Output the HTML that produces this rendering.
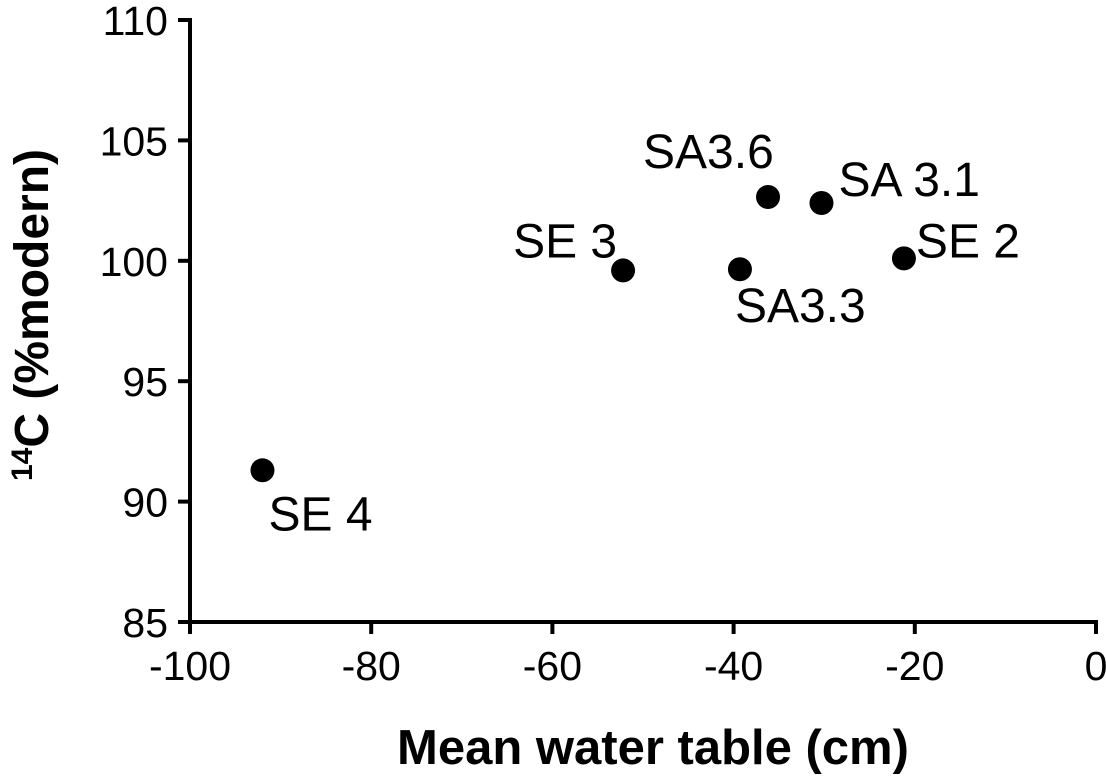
<!DOCTYPE html>
<html><head><meta charset="utf-8"><style>
html,body{margin:0;padding:0;background:#fff}
svg{display:block;font-family:"Liberation Sans",Arial,sans-serif}
</style></head><body>
<svg id="chart" width="1106" height="777"></svg>
<script>
const labels=["SE 4","SE 3","SA3.3","SA3.6","SA 3.1","SE 2"];
const xVals=[-92.0,-52.2,-39.3,-36.2,-30.3,-21.2];
const yVals=[91.3,99.6,99.65,102.65,102.4,100.1];
const xTicks=[-100,-80,-60,-40,-20,0];
const yTicks=[85,90,95,100,105,110];
const labelDx=[6,-110,-5,-125,17,12];
const labelDy=[60,-13,53,-29,-7,-1];
const NS="http://www.w3.org/2000/svg";
const svg=document.getElementById("chart");
const X0=190,X1=1096,Y0=622,Y1=20;
function sx(v){return X0+(v+100)/100*(X1-X0);}
function sy(v){return Y0-(v-85)/25*(Y0-Y1);}
function mk(t,a){const e=document.createElementNS(NS,t);for(const k in a)e.setAttribute(k,a[k]);svg.appendChild(e);return e;}
let e=mk("line",{x1:X0,y1:Y1-2,x2:X0,y2:Y0+2,stroke:"#000","stroke-width":4});


e=mk("line",{x1:X0-2,y1:Y0,x2:X1+2,y2:Y0,stroke:"#000","stroke-width":4});


xTicks.forEach(t=>{
  let l=mk("line",{x1:sx(t),y1:Y0,x2:sx(t),y2:Y0+12,stroke:"#000","stroke-width":4});
  
  
  let tx=mk("text",{x:sx(t),y:680,"font-size":41,"text-anchor":"middle"});
  tx.textContent=t;
  
  
});
yTicks.forEach(t=>{
  let l=mk("line",{x1:X0-12,y1:sy(t),x2:X0,y2:sy(t),stroke:"#000","stroke-width":4});
  
  
  let tx=mk("text",{x:168,y:sy(t)+15,"font-size":41,"text-anchor":"end"});
  tx.textContent=t;
  
  
});
xVals.forEach((v,i)=>{
  let c=mk("circle",{cx:sx(v),cy:sy(yVals[i]),r:12,fill:"#000"});
  
  
  let tx=mk("text",{x:sx(v)+labelDx[i],y:sy(yVals[i])+labelDy[i],"font-size":48});
  tx.textContent=labels[i];
  
  
});
let xt=mk("text",{x:653,y:764,"font-size":49,"font-weight":"bold","text-anchor":"middle"});
xt.textContent="Mean water table (cm)";


let yt=mk("text",{x:0,y:0,"font-size":48,"font-weight":"bold","text-anchor":"middle",transform:"translate(48,315) rotate(-90)"});
yt.innerHTML='<tspan font-size="30" dy="-16">14</tspan><tspan dy="16">C (%modern)</tspan>';


</script>
</body></html>
